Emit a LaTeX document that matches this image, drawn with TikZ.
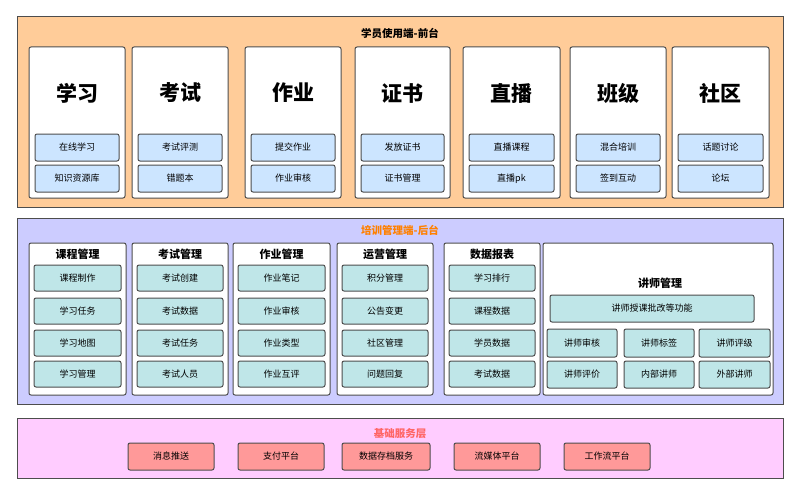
\documentclass[tikz,border=0pt]{standalone}
\usepackage{fontspec}
\setmainfont{Noto Sans CJK SC}
\usetikzlibrary{positioning}
\definecolor{frontbg}{HTML}{FFCC99}
\definecolor{backbg}{HTML}{CCCCFF}
\definecolor{basebg}{HTML}{FFCCFF}
\definecolor{bluebox}{HTML}{CCE5FF}
\definecolor{tealbox}{HTML}{BFE6E8}
\definecolor{redbox}{HTML}{FF9999}
\definecolor{edge}{HTML}{4D4D4D}
\begin{document}
\begin{tikzpicture}[x=1pt,y=-1pt,
    panel/.style={draw=edge,line width=1pt},
    card/.style={draw=edge,fill=white,rounded corners=2pt,line width=1pt},
    item/.style={draw=edge,rounded corners=2pt,line width=1pt},
    itemtext/.style={font=\fontsize{9}{11}\selectfont},
    bigtitle/.style={font=\fontsize{21}{24}\selectfont\bfseries},
    coltitle/.style={font=\fontsize{11}{13}\selectfont\bfseries}]
    \useasboundingbox (0,0) rectangle (800,495);
    % front end
    \draw[panel,fill=frontbg] (17,17) rectangle (783,207);
    \node[font=\fontsize{10.5}{12}\selectfont\bfseries] (front) at (400,33) {学员使用端-前台};
    \foreach \xa/\xb/\name/\ia/\ib in {29/125/学习/在线学习/知识资源库, 132/228/考试/考试评测/错题本,
        245/341/作业/提交作业/作业审核, 355/450/证书/发放证书/证书管理, 463/560/直播/直播课程/直播pk,
        570/666/班级/混合培训/签到互动, 672/769/社区/话题讨论/论坛}{
      \draw[card] (\xa,47) rectangle (\xb,198);
      \node[bigtitle] at ({(\xa+\xb)/2},93) {\name};
      \draw[item,fill=bluebox] (\xa+6,134) rectangle (\xb-6,161) node[midway,itemtext] {\ia};
      \draw[item,fill=bluebox] (\xa+6,165) rectangle (\xb-6,192) node[midway,itemtext] {\ib};
    }
    % back end
    \draw[panel,fill=backbg] (17,218) rectangle (783,404);
    \node[font=\fontsize{10.5}{12}\selectfont\bfseries,text=orange] (back) at (400,230) {培训管理端-后台};
    \foreach \xa/\xb/\name/\ia/\ib/\ic/\id in {29/126/课程管理/课程制作/学习任务/学习地图/学习管理,
        132/228/考试管理/考试创建/考试数据/考试任务/考试人员,
        233/330/作业管理/作业笔记/作业审核/作业类型/作业互评,
        337/433/运营管理/积分管理/公告变更/社区管理/问题回复,
        444/540/数据报表/学习排行/课程数据/学员数据/考试数据}{
      \draw[card] (\xa,243) rectangle (\xb,395);
      \node[coltitle] at ({(\xa+\xb)/2},254) {\name};
      \foreach \yc/\txt in {278/\ia,311/\ib,343/\ic,374/\id}
        \draw[item,fill=tealbox] (\xa+5,\yc-13) rectangle (\xb-5,\yc+13) node[midway,itemtext] {\txt};
    }
    \draw[card] (543,243) rectangle (773,395);
    \node[coltitle] (teacher) at (660,283) {讲师管理};
    \draw[item,fill=tealbox] (550,295) rectangle (754,322) node[midway,itemtext] {讲师授课批改等功能};
    \foreach \xa/\xb/\ia/\ib in {547/617/讲师审核/讲师评价, 624/694/讲师标签/内部讲师, 699/770/讲师评级/外部讲师}{
      \draw[item,fill=tealbox] (\xa,329) rectangle (\xb,357) node[midway,itemtext] {\ia};
      \draw[item,fill=tealbox] (\xa,361) rectangle (\xb,388) node[midway,itemtext] {\ib};
    }
    % base services
    \draw[panel,fill=basebg] (17,418) rectangle (783,478);
    \node[font=\fontsize{10.5}{12}\selectfont\bfseries,text={rgb,255:red,255;green,102;blue,102}] (base) at (400,434) {基础服务层};
    \foreach \xa/\xb/\txt in {128/214/消息推送, 238/324/支付平台, 342/430/数据存档服务, 454/540/流媒体平台, 564/650/工作流平台}
      \draw[item,fill=redbox] (\xa,443) rectangle (\xb,470) node[midway,itemtext] {\txt};
\end{tikzpicture}
\end{document}
